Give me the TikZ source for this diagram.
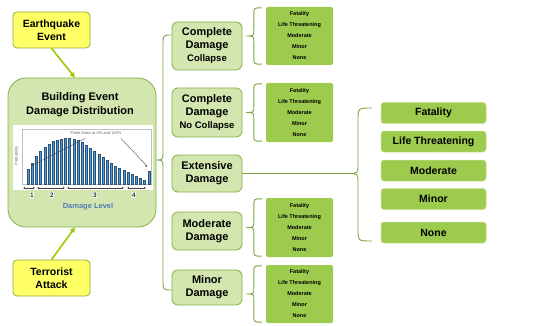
\documentclass[tikz,border=0pt]{standalone}
\usepackage{fontspec}
\setmainfont{Liberation Sans}
\usetikzlibrary{calc,arrows.meta}
\definecolor{yel}{HTML}{FFFF66}
\definecolor{yelb}{HTML}{8FAA3C}
\definecolor{lg}{HTML}{D3E6B0}
\definecolor{lgb}{HTML}{86AE45}
\definecolor{mg}{HTML}{9CCB4E}
\definecolor{brcol}{HTML}{7FA544}
\definecolor{arr}{HTML}{99CC00}
\definecolor{barc}{HTML}{4E97D6}
\definecolor{dl}{HTML}{4E7DB0}
\newcommand{\listbrace}[4]{%
 \draw[brc] ($(#1.north west)+(-#2,1)$) .. controls ($(#1.north west)+(-#3,1)$) .. ($(#1.north west)+(-#3,8)$)
   -- ($(#1.west)+(-#3,-6)$) .. controls ($(#1.west)+(-#3,0)$) .. ($(#1.west)+(-#4,0)$)
   .. controls ($(#1.west)+(-#3,0)$) .. ($(#1.west)+(-#3,6)$)
   -- ($(#1.south west)+(-#3,-8)$) .. controls ($(#1.south west)+(-#3,-1)$) .. ($(#1.south west)+(-#2,-1)$);}
\begin{document}
\begin{tikzpicture}[x=1pt,y=-1pt, font=\bfseries,
 event/.style={draw=yelb, fill=yel, rounded corners=4pt, line width=0.8pt, minimum width=77pt, minimum height=36pt, align=center, font=\bfseries\fontsize{10.5}{12.5}\selectfont},
 dmg/.style={draw=lgb, fill=lg, rounded corners=6pt, line width=0.8pt, minimum width=70pt, align=center, inner sep=1pt, font=\bfseries\fontsize{11}{13}\selectfont},
 small/.style={fill=mg, rounded corners=2pt, minimum width=67pt, align=center, inner sep=1pt, font=\bfseries\fontsize{5.5}{11}\selectfont},
 big/.style={fill=mg, draw=mg!60!white, line width=0.5pt, rounded corners=3pt, minimum width=105pt, minimum height=21pt, font=\bfseries\fontsize{10.5}{12}\selectfont},
 brc/.style={draw=brcol, line width=0.9pt},
 evarrow/.style={draw=arr, line width=1.6pt, -{Triangle[length=5pt,width=5pt]}},
 lvl/.style={draw=black!75, line width=0.4pt, {Latex[length=2pt,width=2pt]}-{Latex[length=2pt,width=2pt]}},
 lvlnum/.style={fill=white, inner sep=0.6pt, font=\bfseries\fontsize{6.5}{7}\selectfont, text=black!80},
]
\useasboundingbox (0,0) rectangle (551,326);

% event boxes
\node[event] (eq) at (51.5,30) {Earthquake\\Event};
\node[event] (ta) at (51.5,278) {Terrorist\\Attack};

% building box
\node[draw=lgb, fill=lg, rounded corners=18pt, line width=0.8pt, minimum width=148pt, minimum height=149pt] (bed) at (82,152.5) {};
\node[font=\bfseries\fontsize{11}{13.5}\selectfont, align=center] (ttl) at (80,104.5) {Building Event\\Damage Distribution};

% chart
\fill[white] (13,125) rectangle (153,190);
\draw[gray!50, line width=0.3pt] (22,129) rectangle (151,184);
\foreach \x/\t in {28/169,32/163,36/156,40/151,45/147,49/144,53/141,57/140,61/139,65/138,69/138,74/139,78/140,82/142,86/145,90/148,94/151,99/154,103/157,107/160,111/163,115/166,119/168,124/170,128/172,132/174,136/176,140/178,144/180,149/171}
  \draw[fill=barc, draw=barc!55!black, line width=0.2pt] (\x-1.3,184) rectangle (\x+1.3,\t);
\node[font=\fontsize{4}{4.5}\selectfont, text=black!60] (fm) at (96,133.5) {Finite Mass at 0\% and 100\%};
\draw[black!70, line width=0.4pt, -{Latex[length=2pt,width=2pt]}] (fm.south west) ++(18,0) -- (31,166);
\draw[black!70, line width=0.4pt] (fm.south east) ++(-4,0) -- (146,165);
\fill[black!80] (146,166) circle (1pt);
\node[rotate=90, font=\fontsize{4}{4.5}\selectfont, text=black!60] (prob) at (16.5,156) {Probability};
\draw[lvl] (23,188) -- (35,188);
\draw[lvl] (37,188) -- (65,188);
\draw[lvl] (67,188) -- (124,188);
\draw[lvl] (127,188) -- (146,188);
\node[lvlnum] (n1) at (32,195) {1};
\node[lvlnum] (n2) at (52,195) {2};
\node[lvlnum] (n3) at (95,195) {3};
\node[lvlnum] (n4) at (134,195) {4};
\node[font=\bfseries\fontsize{7.5}{8}\selectfont, text=dl] (dlv) at (88,207) {Damage Level};

% event arrows
\draw[evarrow] (eq.south) -- ($(bed.north)+(-7,0)$);
\draw[evarrow] (ta.north) -- ($(bed.south)+(-7,0)$);

% damage state boxes
\node[dmg, minimum height=48pt] (cdc) at (207,46) {Complete\\Damage\\{\fontsize{9.5}{12}\selectfont Collapse}};
\node[dmg, minimum height=49pt] (cdn) at (207,112.5) {Complete\\Damage\\{\fontsize{9.5}{12}\selectfont No Collapse}};
\node[dmg, minimum height=37pt] (ext) at (207,173.5) {Extensive\\Damage};
\node[dmg, minimum height=38pt] (mod) at (207,231) {Moderate\\Damage};
\node[dmg, minimum height=35pt] (min) at (207,287.5) {Minor\\Damage};

% big left brace
\coordinate (lt) at ($(bed.east)+(0,7.5)$);
\draw[brc] (cdc.west |- 0,35) .. controls (163,35) .. (163,45) -- (163,150) .. controls (163,160) .. (lt)
  .. controls (163,160) .. (163,170) -- (163,280) .. controls (163,290) .. (min.west |- 0,290);

% small lists
\node[small, minimum height=58pt] (l1) at (299.5,36) {Fatality\\Life Threatening\\Moderate\\Minor\\None};
\node[small, minimum height=59pt] (l2) at (299.5,112.5) {Fatality\\Life Threatening\\Moderate\\Minor\\None};
\node[small, minimum height=59pt] (l3) at (299.5,227.5) {Fatality\\Life Threatening\\Moderate\\Minor\\None};
\node[small, minimum height=58pt] (l4) at (299.5,294) {Fatality\\Life Threatening\\Moderate\\Minor\\None};
\listbrace{l1}{4}{12}{20}
\listbrace{l2}{4}{12}{20}
\listbrace{l3}{4}{12}{20}
\listbrace{l4}{4}{12}{20}

% big list
\node[big] (f1) at (433.5,113) {Fatality};
\node[big] (f2) at (433.5,141.5) {Life Threatening};
\node[big] (f3) at (433.5,170.5) {Moderate};
\node[big] (f4) at (433.5,199) {Minor};
\node[big] (f5) at (433.5,232.5) {None};

\coordinate (rt) at (348,173.5);
\draw[brc] (ext.east) -- (rt);
\draw[brc] (372,108) .. controls (358,108) .. (358,120) -- (358,164) .. controls (358,173.5) .. (rt)
  .. controls (358,173.5) .. (358,183) -- (358,229) .. controls (358,241) .. (372,241);
\end{tikzpicture}
\end{document}
